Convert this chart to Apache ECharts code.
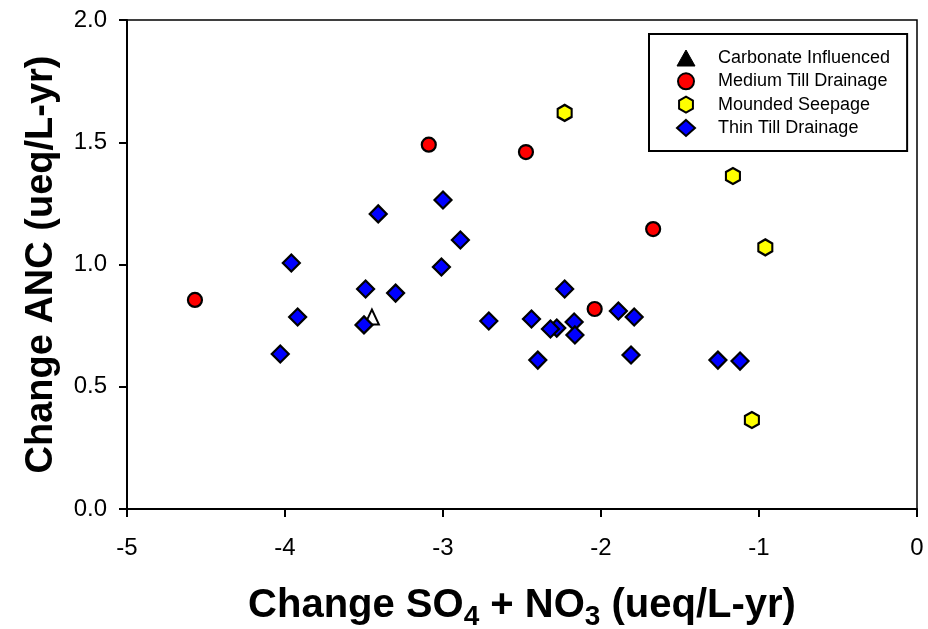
<!DOCTYPE html>
<html>
<head>
<meta charset="utf-8">
<script src="https://cdn.jsdelivr.net/npm/echarts@6/dist/echarts.min.js"></script>
<style>
html,body{margin:0;padding:0;background:#fff;}
#chart{width:928px;height:629px;}
</style>
</head>
<body>
<div id="chart"></div>
<script>
// ---- Data ----
const seriesNames = ['Carbonate Influenced', 'Medium Till Drainage', 'Mounded Seepage', 'Thin Till Drainage'];

const carbX = [-3.45];
const carbY = [0.785];

const medX = [-4.57, -3.09, -2.475, -2.04, -1.67];
const medY = [0.855, 1.49, 1.46, 0.818, 1.145];

const moundX = [-2.23, -1.165, -0.96, -1.045];
const moundY = [1.62, 1.362, 1.07, 0.364];

const thinX = [-4.03, -3.96, -3.92, -3.49, -3.50, -3.41, -3.30, -3.00, -2.89, -3.01, -2.71, -2.44, -2.40, -2.23, -2.28, -2.32, -2.17, -2.165, -1.89, -1.79, -1.81, -1.26, -1.12];
const thinY = [0.634, 1.006, 0.785, 0.90, 0.753, 1.207, 0.883, 1.264, 1.10, 0.99, 0.769, 0.777, 0.609, 0.90, 0.74, 0.736, 0.765, 0.712, 0.81, 0.785, 0.63, 0.609, 0.605];

const xTicks = { min: -5, max: 0, interval: 1 };
const yTicks = { min: 0, max: 2, interval: 0.5 };

function pairs(xs, ys) { return xs.map((x, i) => [x, ys[i]]); }

const FONT = '"Liberation Sans", Arial, Helvetica, sans-serif';
const hexPath = 'path://M0,-10 L8.66,-5 L8.66,5 L0,10 L-8.66,5 L-8.66,-5 Z';

const chart = echarts.init(document.getElementById('chart'), null, { renderer: 'canvas' });
chart.setOption({
  animation: false,
  backgroundColor: '#fff',
  textStyle: { fontFamily: FONT },
  grid: {
    left: 127, right: 11, top: 20, bottom: 120,
    containLabel: false,
    outerBoundsMode: 'none',
    show: true, borderColor: '#000', borderWidth: 1.5, backgroundColor: 'transparent'
  },
  xAxis: {
    type: 'value',
    min: xTicks.min, max: xTicks.max, interval: xTicks.interval,
    splitLine: { show: false },
    axisLine: { show: true, onZero: false, lineStyle: { color: '#000', width: 2 } },
    axisTick: { show: true, inside: false, length: 8, lineStyle: { color: '#000', width: 2 } },
    axisLabel: { color: '#000', fontSize: 24, fontFamily: FONT, margin: 27 },
    name: '{a|Change SO}{s|4}{a| + NO}{s|3}{a| (ueq/L-yr)}',
    nameLocation: 'middle',
    nameGap: 72,
    nameTextStyle: {
      rich: {
        a: { fontSize: 40, fontWeight: 'bold', color: '#000', fontFamily: FONT },
        s: { fontSize: 28, fontWeight: 'bold', color: '#000', fontFamily: FONT, padding: [22, 0, 0, 0] }
      }
    }
  },
  yAxis: {
    type: 'value',
    min: yTicks.min, max: yTicks.max, interval: yTicks.interval,
    splitLine: { show: false },
    axisLine: { show: true, onZero: false, lineStyle: { color: '#000', width: 2 } },
    axisTick: { show: true, inside: false, length: 8, lineStyle: { color: '#000', width: 2 } },
    axisLabel: { color: '#000', fontSize: 24, fontFamily: FONT, margin: 20, formatter: v => v.toFixed(1) },
    name: 'Change ANC (ueq/L-yr)',
    nameLocation: 'middle',
    nameGap: 66,
    nameTextStyle: { fontSize: 38, fontWeight: 'bold', color: '#000', fontFamily: FONT }
  },
  legend: {
    orient: 'vertical',
    left: 649, top: 34,
    padding: [15, 17, 14, 27],
    itemWidth: 18, itemHeight: 16, itemGap: 5.3,
    backgroundColor: '#fff', borderColor: '#000', borderWidth: 2,
    selectedMode: false,
    textStyle: { fontSize: 18, color: '#000', fontFamily: FONT, lineHeight: 18, padding: [0, 0, 0, 18] },
    data: [
      { name: seriesNames[0], itemStyle: { color: '#000', borderColor: '#000', borderWidth: 1 } },
      { name: seriesNames[1] },
      { name: seriesNames[2] },
      { name: seriesNames[3] }
    ]
  },
  series: [
    {
      name: seriesNames[0], type: 'scatter',
      symbol: 'triangle', symbolSize: [14, 15],
      itemStyle: { color: '#fff', borderColor: '#000', borderWidth: 2, opacity: 1 },
      data: pairs(carbX, carbY)
    },
    {
      name: seriesNames[1], type: 'scatter',
      symbol: 'circle', symbolSize: 14,
      itemStyle: { color: '#ff0000', borderColor: '#000', borderWidth: 2.2, opacity: 1 },
      data: pairs(medX, medY)
    },
    {
      name: seriesNames[2], type: 'scatter',
      symbol: hexPath, symbolSize: [14, 16],
      itemStyle: { color: '#ffff00', borderColor: '#000', borderWidth: 2.2, opacity: 1 },
      data: pairs(moundX, moundY)
    },
    {
      name: seriesNames[3], type: 'scatter',
      symbol: 'diamond', symbolSize: 17,
      itemStyle: { color: '#0000ff', borderColor: '#000', borderWidth: 2.2, opacity: 1 },
      data: pairs(thinX, thinY)
    }
  ]
});
</script>
</body>
</html>
